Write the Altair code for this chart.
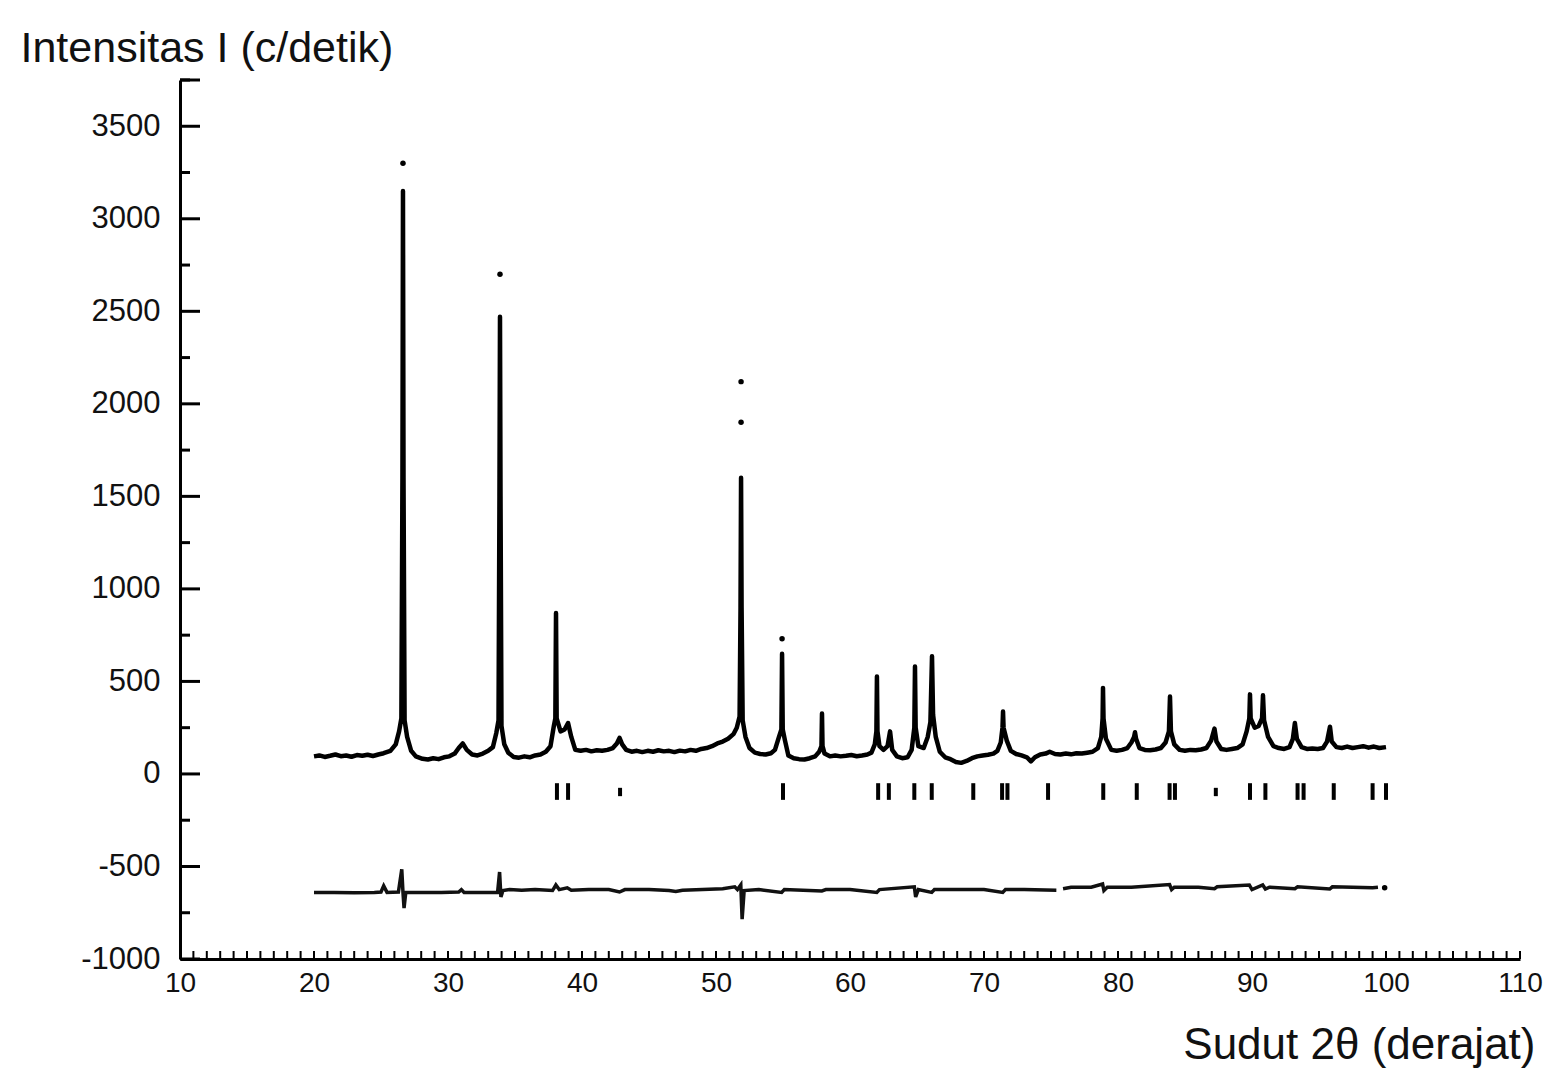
import altair as alt
import pandas as pd

obs_x = [20.0, 20.4, 20.8, 21.2, 21.6, 22.0, 22.4, 22.8, 23.2, 23.6, 24.0, 24.4, 24.8, 25.2,
         25.7, 26.1, 26.35, 26.52, 26.6, 26.64, 26.68, 26.76, 26.95, 27.25, 27.6,
         28.1, 28.5, 28.9, 29.3, 29.7, 30.1, 30.5, 30.8, 31.1, 31.4, 31.8, 32.2, 32.6, 33.0,
         33.35, 33.6, 33.77, 33.84, 33.88, 33.92, 33.99, 34.2, 34.5, 34.9,
         35.3, 35.7, 36.1, 36.5, 36.9, 37.3,
         37.65, 37.9, 38.01, 38.06, 38.11, 38.4, 38.7, 38.96, 39.2, 39.5, 39.9,
         40.3, 40.7, 41.1, 41.5, 41.9, 42.3, 42.6, 42.8, 43.0, 43.3, 43.7, 44.1, 44.5, 44.9,
         45.3, 45.7, 46.1, 46.5, 46.9, 47.3, 47.7, 48.1, 48.5, 48.9, 49.3, 49.7, 50.1, 50.5,
         50.9, 51.3,
         51.55, 51.76, 51.83, 51.87, 51.91, 51.99, 52.2, 52.5, 52.9,
         53.3, 53.7, 54.1, 54.4, 54.7, 54.88, 54.93, 54.98, 55.15, 55.4, 55.8, 56.2, 56.6,
         57.0, 57.4, 57.7, 57.87, 57.91, 57.95, 58.1, 58.5, 58.9, 59.3, 59.7, 60.1, 60.5,
         60.9, 61.3, 61.6, 61.85, 61.97, 62.01, 62.05, 62.2, 62.5, 62.8, 62.99, 63.15, 63.5,
         63.9, 64.3, 64.6, 64.8, 64.85, 64.9, 65.1, 65.5, 65.8, 66.0, 66.12, 66.2, 66.4,
         66.7, 67.1, 67.5, 67.9, 68.3, 68.7, 69.1, 69.5, 69.9, 70.3, 70.7, 71.0, 71.25,
         71.38, 71.42, 71.46, 71.7, 72.0, 72.4, 72.8, 73.2, 73.5, 73.8, 74.2, 74.6, 74.9,
         75.3, 75.7, 76.1, 76.5, 76.9, 77.3, 77.7, 78.1, 78.5, 78.75, 78.85, 78.88, 78.92,
         79.1, 79.5, 79.9, 80.3, 80.7, 81.0, 81.2, 81.27, 81.35, 81.6, 82.0, 82.4, 82.8,
         83.2, 83.55, 83.8, 83.88, 83.95, 84.2, 84.6, 85.0, 85.4, 85.8, 86.2, 86.6, 86.95,
         87.2, 87.35, 87.7, 88.1, 88.5, 88.9, 89.3, 89.6, 89.8, 89.85, 89.9, 90.2, 90.5,
         90.75, 90.82, 90.9, 91.2, 91.6, 92.0, 92.4, 92.8, 93.05, 93.2, 93.35, 93.7, 94.1,
         94.5, 94.9, 95.3, 95.6, 95.82, 95.95, 96.3, 96.7, 97.1, 97.5, 97.9, 98.3, 98.7,
         99.1, 99.5, 100.0]
obs_y = [95, 100, 92, 98, 105, 96, 100, 93, 102, 98, 104, 97, 105, 112,
         125, 160, 230, 300, 1600, 3150, 1600, 290, 200, 125, 95,
         82, 78, 85, 80, 90, 95, 110, 140, 165, 130, 105, 100, 110, 125,
         145, 220, 290, 1500, 2470, 1500, 260, 160, 115, 92,
         88, 95, 90, 100, 105, 120,
         150, 260, 300, 870, 300, 230, 240, 275, 200, 130, 125,
         130, 122, 128, 125, 130, 140, 165, 195, 160, 130, 120, 125, 118, 125,
         120, 128, 122, 125, 118, 126, 122, 130, 125, 135, 140, 150, 165, 175,
         190, 215,
         250, 310, 900, 1600, 900, 290, 200, 140, 115,
         108, 105, 112, 130, 200, 240, 650, 240, 180, 100, 85, 80, 78,
         85, 95, 120, 150, 326, 150, 110, 95, 100, 95, 98, 102, 96,
         100, 105, 115, 160, 230, 527, 230, 150, 130, 150, 230, 130, 95,
         85, 90, 130, 250, 581, 250, 150, 140, 200, 280, 636, 320, 200,
         120, 90, 80, 65, 60, 70, 85, 95, 100, 104, 110, 125, 170,
         250, 337, 250, 180, 125, 108, 100, 90, 68, 90, 105, 110, 120,
         108, 105, 110, 106, 112, 110, 115, 120, 140, 200, 300, 465, 300,
         190, 130, 125, 130, 140, 170, 200, 225, 190, 140, 130, 128, 132,
         140, 170, 230, 418, 230, 160, 130, 125, 130, 128, 132, 140, 180,
         245, 175, 135, 130, 135, 140, 160, 230, 300, 430, 300, 250, 260,
         300, 425, 290, 200, 150, 140, 135, 145, 190, 275, 190, 145, 135,
         138, 135, 140, 175, 255, 175, 145, 140, 148, 140, 145, 150, 142,
         148, 140, 145]

# isolated observed points above the peak tops
dot_x = [26.64, 33.88, 51.87, 51.87, 54.93]
dot_y = [3300, 2700, 2120, 1900, 730]

# ---- difference curve (two pieces, a gap near 75.6) ----
diff_a_x = [20.0, 21.5, 23.0, 24.5, 25.0, 25.2, 25.45, 26.3, 26.55, 26.64, 26.72, 26.85, 28.0,
            29.5, 30.8, 31.0, 31.2, 33.0, 33.7, 33.85, 33.95, 34.1, 34.6, 35.5, 36.5, 37.8,
            38.05, 38.3, 38.9, 39.2, 40.5, 42.0, 42.8, 43.2, 45.0, 46.5, 47.0, 47.5, 49.0,
            50.5, 51.4, 51.6, 51.85, 51.95, 52.1, 53.2, 54.9, 55.1, 57.9, 58.2, 60.0, 62.0,
            62.2, 64.8, 64.9, 65.1, 66.1, 66.3, 68.0, 70.0, 71.4, 71.6, 73.0, 75.4]
diff_a_y = [-640, -640, -642, -640, -638, -605, -640, -638, -515, -640, -725, -640, -640,
            -640, -638, -625, -640, -640, -640, -530, -665, -630, -625, -628, -625, -630,
            -600, -625, -615, -628, -625, -625, -638, -625, -625, -630, -635, -628, -625,
            -620, -610, -625, -600, -785, -630, -625, -640, -625, -632, -625, -625, -640,
            -625, -610, -665, -625, -640, -625, -625, -625, -640, -625, -625, -628]
diff_b_x = [75.9, 76.5, 78.0, 78.85, 78.95, 79.2, 81.0, 83.85, 84.0, 84.2, 86.0, 87.2, 87.4,
            89.8, 90.0, 90.8, 91.0, 91.3, 93.2, 93.4, 95.8, 96.0, 97.5, 99.0, 99.4]
diff_b_y = [-620, -612, -612, -595, -630, -612, -612, -598, -625, -612, -612, -620, -610,
            -600, -625, -600, -622, -612, -620, -610, -622, -610, -612, -615, -612]
diff_dot_x = [99.9]
diff_dot_y = [-615]

# ---- Bragg reflection markers ----
bragg_pos = [38.13, 38.96, 42.84, 55.0, 62.1, 62.9, 64.8, 66.1, 69.2, 71.35, 71.75, 74.78,
             78.9, 81.4, 83.85, 84.25, 87.3, 89.85, 91.0, 93.4, 93.85, 96.1, 99.0, 100.0]
bragg_lo = [-140, -140, -120, -140, -140, -140, -140, -140, -140, -140, -140, -140,
            -140, -140, -140, -140, -120, -140, -140, -140, -140, -140, -140, -140]
bragg_hi = [-50, -50, -75, -50, -50, -50, -50, -50, -50, -50, -50, -50,
            -50, -50, -50, -50, -75, -50, -50, -50, -50, -50, -50, -50]

# ---- axis ticks ----
x_labels = [10, 20, 30, 40, 50, 60, 70, 80, 90, 100, 110]
x_minor = list(range(10, 111))
y_labels = [-1000, -500, 0, 500, 1000, 1500, 2000, 2500, 3000, 3500]
y_minor = [-750, -250, 250, 750, 1250, 1750, 2250, 2750, 3250, 3750]

W, H = 1340, 879
FONT = "Liberation Sans"
xs = alt.Scale(domain=[10, 110], nice=False, zero=False)
ys = alt.Scale(domain=[-1000, 3750], nice=False, zero=False)

obs_df = pd.DataFrame({"x": obs_x, "y": obs_y})
dot_df = pd.DataFrame({"x": dot_x + diff_dot_x, "y": dot_y + diff_dot_y})
diff_df = pd.concat([
    pd.DataFrame({"x": diff_a_x, "y": diff_a_y, "seg": "a"}),
    pd.DataFrame({"x": diff_b_x, "y": diff_b_y, "seg": "b"}),
])
bragg_df = pd.DataFrame({"x": bragg_pos, "lo": bragg_lo, "hi": bragg_hi})
xt_df = pd.DataFrame({"t": x_minor})
ymaj_df = pd.DataFrame({"t": y_labels + [3750]})
ymin_df = pd.DataFrame({"t": y_minor})

obs_line = alt.Chart(obs_df).mark_line(color="#000", strokeWidth=4.5, strokeJoin="round").encode(
    x=alt.X("x:Q", scale=xs, axis=alt.Axis(
        values=x_labels, ticks=False, grid=False, domainColor="#000", domainWidth=3,
        labelFont=FONT, labelFontSize=28, labelColor="#111", labelPadding=10,
        labelFlush=False, labelExpr="'' + datum.value",
        title="Sudut 2θ (derajat)", titleFont=FONT, titleFontSize=44, titleFontWeight="normal",
        titleColor="#111", titleAlign="right", titleBaseline="middle", titleX=W + 15, titleY=86)),
    y=alt.Y("y:Q", scale=ys, axis=alt.Axis(
        values=y_labels, ticks=False, grid=False, domainColor="#000", domainWidth=3,
        labelFont=FONT, labelFontSize=31, labelColor="#111", labelPadding=20,
        labelExpr="'' + datum.value",
        title="Intensitas I (c/detik)", titleFont=FONT, titleFontSize=43, titleFontWeight="normal",
        titleColor="#111", titleAngle=0, titleAlign="left", titleBaseline="middle",
        titleX=-160, titleY=-32)),
)

dots = alt.Chart(dot_df).mark_circle(color="#000", size=30, opacity=1).encode(
    x=alt.X("x:Q", scale=xs), y=alt.Y("y:Q", scale=ys))

diff_line = alt.Chart(diff_df).mark_line(color="#111", strokeWidth=3.5).encode(
    x=alt.X("x:Q", scale=xs), y=alt.Y("y:Q", scale=ys), detail="seg:N")

bragg = alt.Chart(bragg_df).mark_rule(color="#000", strokeWidth=4).encode(
    x=alt.X("x:Q", scale=xs), y=alt.Y("lo:Q", scale=ys), y2="hi:Q")

x_ticks = alt.Chart(xt_df).mark_rule(color="#000", strokeWidth=2).encode(
    x=alt.X("t:Q", scale=xs), y=alt.value(H), y2=alt.value(H - 8))

y_major = alt.Chart(ymaj_df).mark_rule(color="#000", strokeWidth=3).encode(
    y=alt.Y("t:Q", scale=ys), x=alt.value(0), x2=alt.value(20))

y_minor_t = alt.Chart(ymin_df).mark_rule(color="#000", strokeWidth=3).encode(
    y=alt.Y("t:Q", scale=ys), x=alt.value(0), x2=alt.value(10))

chart = alt.layer(obs_line, dots, diff_line, bragg, x_ticks, y_major, y_minor_t).properties(
    width=W, height=H,
    autosize=alt.AutoSizeParams(type="none"),
    padding={"left": 180, "top": 80, "right": 32, "bottom": 113},
    background="white",
).configure_view(stroke=None)

chart.save("out.html", embed_options={"renderer": "svg", "actions": False})
